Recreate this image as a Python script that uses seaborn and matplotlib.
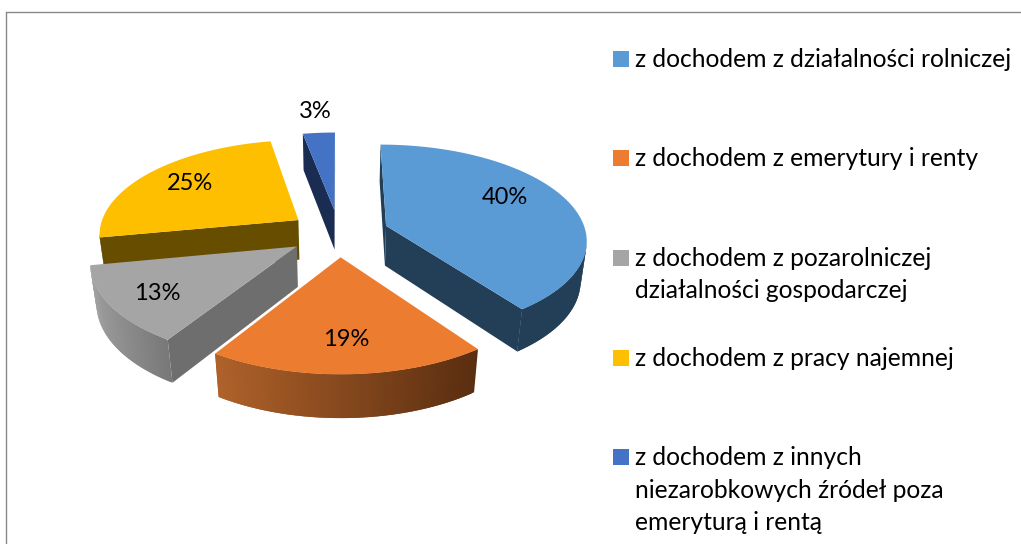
import numpy as np
import matplotlib
matplotlib.use('Agg')
import matplotlib.pyplot as plt
import seaborn as sns

sns.set_style('white')
plt.rcParams['font.family'] = ['Lato', 'DejaVu Sans']

# dane
labels = ['z dochodem z działalności rolniczej',
          'z dochodem z emerytury i renty',
          'z dochodem z pozarolniczej\ndziałalności gospodarczej',
          'z dochodem z pracy najemnej',
          'z dochodem z innych\nniezarobkowych źródeł poza\nemeryturą i rentą']
shares = [40, 19, 13, 25, 3]
pct_labels = ['40%', '19%', '13%', '25%', '3%']

face_colors = sns.color_palette(['#5B9BD5', '#EC7C30', '#A5A5A5', '#FDBF00', '#4472C4'])
radial_colors = ['#233F58', '#7A4018', '#6E6E6E', '#664D00', '#1B2C52']
arc_left = ['#233F58', '#B0622A', '#9C9C9C', '#664D00', '#1B2C52']
arc_right = ['#233F58', '#5A2E10', '#787878', '#664D00', '#1B2C52']

# uklad
cx, cy = 339, 233
rx, ry = 200, 94
persp = 0.135
persp_z = 0.025
depth = 41
explode = 0.25
draw_order = [4, 3, 0, 2, 1]  # od tylu do przodu
label_xy = [(505, 197), (346, 340), (157, 293), (190, 183), (315, 111)]
legend_y = [58.5, 157.5, 257.5, 357.5, 456.5]


def project(x, y, z=0.0):
    w = 1 + persp * y + persp_z * z
    return cx + rx * x / w, cy - ry * y / w + depth * z / w


def mix(c1, c2, t):
    a, b = np.array(matplotlib.colors.to_rgb(c1)), np.array(matplotlib.colors.to_rgb(c2))
    return tuple(a + (b - a) * t)


fig = plt.figure(figsize=(10.21, 5.44), dpi=100)
ax = fig.add_axes([0, 0, 1, 1])
ax.set_xlim(0, 1021)
ax.set_ylim(544, 0)
ax.axis('off')

# ramka
ax.plot([6, 1021], [12, 12], color='#888888', lw=1.0)
ax.plot([6, 6], [12, 544], color='#888888', lw=1.0)

# kolowy 3D liczony z udzialow
edges = np.cumsum([0] + shares) / sum(shares) * 2 * np.pi

for i in draw_order:
    a0, a1 = edges[i], edges[i + 1]
    mid = (a0 + a1) / 2
    ox, oy = explode * np.sin(mid), explode * np.cos(mid)
    t = np.linspace(a0, a1, 80)
    xs, ys = ox + np.sin(t), oy + np.cos(t)
    sx_all = project(xs, ys)[0]
    apex_x = project(ox, oy)[0]

    # sciany promieniowe (tylko widoczne)
    for k, visible in ((0, sx_all[0] < apex_x), (-1, sx_all[-1] > apex_x)):
        if visible:
            rad_x = [ox, xs[k], xs[k], ox]
            rad_y = [oy, ys[k], ys[k], oy]
            px, py = zip(*[project(a, b, c) for a, b, c in zip(rad_x, rad_y, [0, 0, 1, 1])])
            ax.fill(px, py, color=radial_colors[i], lw=0)

    # sciana zewnetrzna, tylko przednia czesc
    front = [j for j in range(len(t) - 1) if sx_all[j + 1] < sx_all[j]]
    for j in front:
        e = min(j + 2, len(t) - 1)  # lekka zakladka zeby nie bylo prazkow
        qx = [xs[j], xs[e], xs[e], xs[j]]
        qy = [ys[j], ys[e], ys[e], ys[j]]
        px, py = zip(*[project(a, b, c) for a, b, c in zip(qx, qy, [0, 0, 1, 1])])
        f = (sx_all[j] - sx_all.min()) / (sx_all.max() - sx_all.min())
        ax.fill(px, py, color=mix(arc_left[i], arc_right[i], f), lw=0)

    # wierzch
    px, py = project(np.r_[ox, xs], np.r_[oy, ys])
    ax.fill(px, py, color=face_colors[i], lw=0)

for txt, (x, y) in zip(pct_labels, label_xy):
    ax.text(x, y, txt, ha='center', va='center', fontsize=17, color='black')

# legenda
for i, name in enumerate(labels):
    ax.scatter([620.5], [legend_y[i]], marker='s', s=117, color=face_colors[i], linewidths=0)
    ax.text(635, legend_y[i] - 10.5, name, ha='left', va='top', fontsize=17.7,
            color='black', linespacing=1.5)

fig.savefig('out.png', dpi=100)
